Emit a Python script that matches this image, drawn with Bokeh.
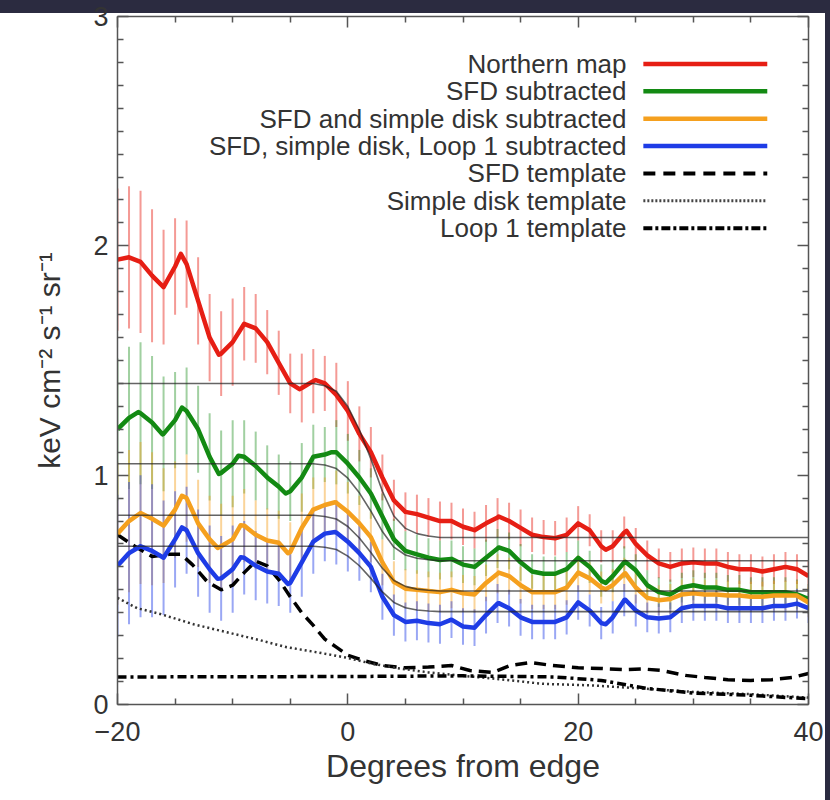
import numpy as np
from bokeh.plotting import figure
from bokeh.models import (Range1d, LinearAxis, FixedTicker, CustomJSTickFormatter,
                          ColumnDataSource)
from bokeh.core.properties import value
from bokeh.embed import file_html
from bokeh.resources import INLINE

FONT = "Liberation Sans"
TXT = "#333333"

# ---------------- data ----------------
degrees = list(range(-20, 41))

northern = [1.94, 1.95, 1.93, 1.87, 1.82, 1.91, 1.92, 1.76, 1.60, 1.53,
            1.58, 1.66, 1.64, 1.58, 1.49, 1.40, 1.38, 1.41, 1.40, 1.35,
            1.28, 1.18, 1.10, 0.99, 0.89, 0.84, 0.83, 0.815, 0.80, 0.80,
            0.775, 0.76, 0.79, 0.815, 0.80, 0.77, 0.74, 0.73, 0.725, 0.74,
            0.79, 0.76, 0.69, 0.69, 0.75, 0.70, 0.65, 0.615, 0.60, 0.615,
            0.62, 0.615, 0.615, 0.60, 0.59, 0.59, 0.58, 0.59, 0.60, 0.59, 0.56]

sfd_sub = [1.20, 1.25, 1.27, 1.23, 1.18, 1.24, 1.28, 1.20, 1.08, 1.01,
           1.05, 1.08, 1.04, 0.99, 0.95, 0.93, 0.99, 1.08, 1.09, 1.10,
           1.05, 0.99, 0.92, 0.82, 0.72, 0.67, 0.655, 0.64, 0.63, 0.635,
           0.61, 0.60, 0.64, 0.68, 0.67, 0.62, 0.58, 0.57, 0.57, 0.59,
           0.64, 0.60, 0.54, 0.56, 0.62, 0.585, 0.52, 0.49, 0.48, 0.51,
           0.52, 0.51, 0.51, 0.50, 0.50, 0.49, 0.49, 0.49, 0.49, 0.48, 0.46]

sfd_disk_sub = [0.745, 0.80, 0.835, 0.81, 0.78, 0.85, 0.90, 0.79, 0.72, 0.69,
                0.72, 0.78, 0.74, 0.715, 0.705, 0.665, 0.77, 0.85, 0.87, 0.88,
                0.84, 0.79, 0.73, 0.62, 0.535, 0.505, 0.50, 0.495, 0.49, 0.50,
                0.485, 0.48, 0.53, 0.57, 0.56, 0.52, 0.49, 0.49, 0.49, 0.51,
                0.575, 0.55, 0.51, 0.52, 0.57, 0.51, 0.465, 0.455, 0.46, 0.48,
                0.485, 0.48, 0.48, 0.475, 0.475, 0.47, 0.47, 0.475, 0.475, 0.475, 0.445]

all_sub = [0.605, 0.66, 0.69, 0.67, 0.64, 0.72, 0.76, 0.66, 0.59, 0.55,
           0.59, 0.64, 0.605, 0.58, 0.57, 0.53, 0.62, 0.71, 0.745, 0.75,
           0.71, 0.66, 0.60, 0.47, 0.39, 0.36, 0.365, 0.355, 0.35, 0.37,
           0.34, 0.335, 0.39, 0.44, 0.42, 0.38, 0.36, 0.36, 0.36, 0.38,
           0.445, 0.41, 0.355, 0.38, 0.455, 0.41, 0.38, 0.375, 0.38, 0.42,
           0.43, 0.43, 0.43, 0.42, 0.42, 0.42, 0.42, 0.43, 0.43, 0.44, 0.42]

# extra curve points read at the sub-degree peaks and dips
northern_extra = [(-14.5, 1.965), (-11.2, 1.525), (-4.2, 1.375), (-2.8, 1.415),
                  (13.1, 0.82), (22.4, 0.675), (24.2, 0.757)]
sfd_sub_extra = [(-18.2, 1.275), (-16.1, 1.178), (-14.4, 1.295), (-11.2, 1.005), (-9.5, 1.085),
                 (-5.4, 0.92), (-1.4, 1.10), (13.1, 0.685), (22.4, 0.53), (24.1, 0.622)]
sfd_disk_sub_extra = [(-14.4, 0.91), (-11.3, 0.683), (-9.3, 0.782), (-5.2, 0.66), (-1.1, 0.882),
                      (13.1, 0.575), (22.4, 0.503), (24.1, 0.572)]
all_sub_extra = [(-14.4, 0.772), (-11.3, 0.548), (-9.3, 0.642), (-5.2, 0.525), (-1.1, 0.752),
                 (13.1, 0.442), (22.4, 0.35), (24.1, 0.457)]

errors = [0.31, 0.31, 0.31, 0.29, 0.25, 0.21, 0.19, 0.19, 0.19, 0.185,
          0.19, 0.16, 0.15, 0.14, 0.14, 0.13, 0.15, 0.14, 0.12, 0.14,
          0.13, 0.12, 0.11, 0.10, 0.09, 0.085, 0.085, 0.085, 0.085, 0.08,
          0.08, 0.08, 0.08, 0.085, 0.08, 0.08, 0.075, 0.075, 0.075, 0.075,
          0.075, 0.07, 0.07, 0.07, 0.07, 0.07, 0.065, 0.065, 0.065, 0.065,
          0.065, 0.065, 0.065, 0.065, 0.065, 0.065, 0.065, 0.065, 0.065, 0.065, 0.065]

# step-like model fits (thin black lines)
model_x = [-20, -3, -2, -1, 0, 1, 2, 3, 4, 5, 6, 7, 8, 40]
model_northern = [1.40, 1.40, 1.39, 1.366, 1.299, 1.198, 1.071, 0.930, 0.822, 0.768, 0.745, 0.735, 0.728, 0.728]
model_sfd = [1.05, 1.05, 1.044, 1.029, 0.987, 0.923, 0.843, 0.754, 0.686, 0.652, 0.638, 0.631, 0.627, 0.627]
model_sfd_disk = [0.825, 0.825, 0.82, 0.809, 0.776, 0.726, 0.663, 0.594, 0.541, 0.515, 0.503, 0.498, 0.495, 0.495]
model_all = [0.69, 0.69, 0.686, 0.676, 0.647, 0.605, 0.550, 0.491, 0.445, 0.422, 0.412, 0.408, 0.405, 0.405]

# templates
sfd_tpl_x = [-20, -18.5, -17, -15.5, -14.5, -13.5, -12.2, -11, -10, -9, -8, -7, -6, -5, -4, -3, -2, -1, 0,
             1.5, 3, 5, 7, 9, 10.6, 12.6, 14.1, 15.8, 17.8, 20, 22, 24, 25.6, 27.3, 29.3, 31, 33, 35, 36.8, 38.6, 40]
sfd_tpl_y = [0.74, 0.69, 0.645, 0.655, 0.655, 0.61, 0.535, 0.50, 0.52, 0.575, 0.625, 0.605, 0.545, 0.47, 0.40,
             0.345, 0.285, 0.25, 0.215, 0.19, 0.17, 0.16, 0.163, 0.17, 0.148, 0.14, 0.17, 0.183, 0.17, 0.16,
             0.157, 0.152, 0.155, 0.148, 0.127, 0.118, 0.108, 0.105, 0.108, 0.118, 0.135]

disk_tpl_x = [-20, -18.3, -16.3, -13.4, -10.5, -7.6, -5.3, -2.6, -0.2, 2.1, 4.5, 7, 9.6, 12.6, 17, 21.3, 25.4, 30, 35, 40]
disk_tpl_y = [0.465, 0.42, 0.395, 0.35, 0.315, 0.28, 0.25, 0.227, 0.205, 0.178, 0.157, 0.14, 0.127, 0.113,
              0.09, 0.083, 0.07, 0.055, 0.045, 0.03]

loop_tpl_x = [-20, 0, 10, 18, 22, 26, 30, 35, 40]
loop_tpl_y = [0.12, 0.122, 0.125, 0.12, 0.105, 0.07, 0.05, 0.04, 0.025]

legend_labels = ["Northern map", "SFD subtracted", "SFD and simple disk subtracted",
                 "SFD, simple disk, Loop 1 subtracted", "SFD template",
                 "Simple disk template", "Loop 1 template"]

x_ticks = [-20, 0, 20, 40]
y_ticks = [0, 1, 2, 3]

# ---------------- styles ----------------
RED, GREEN, ORANGE, BLUE = "#e61e14", "#138a13", "#f5a01e", "#1e3ce6"
DARK = "#2b2b40"

p = figure(width=830, height=800, x_range=Range1d(-20, 40), y_range=Range1d(0, 3),
           output_backend="svg", toolbar_location=None,
           min_border_left=117, min_border_right=22, min_border_top=16, min_border_bottom=96,
           x_axis_label="Degrees from edge", y_axis_label="keV cm⁻² s⁻¹ sr⁻¹")
p.grid.visible = False
p.outline_line_color = None
p.background_fill_color = "white"
p.border_fill_alpha = 0
p.styles = {
    "background": (f"linear-gradient({DARK}, {DARK}) left top / 100% 13px no-repeat, "
                   f"linear-gradient({DARK}, {DARK}) right top / 5px 100% no-repeat, white")
}

xticker = FixedTicker(ticks=x_ticks, minor_ticks=[v for v in range(-20, 41, 5) if v not in x_ticks])
yticker = FixedTicker(ticks=y_ticks, minor_ticks=[i / 10 for i in range(31) if i % 10])

def style_axis(ax):
    ax.axis_line_color = "#555555"
    ax.axis_line_width = 1.5
    ax.major_tick_line_color = "#555555"
    ax.minor_tick_line_color = "#555555"
    ax.major_tick_line_width = 1.5
    ax.minor_tick_line_width = 1.5
    ax.major_tick_in = 11
    ax.major_tick_out = 0
    ax.minor_tick_in = 6
    ax.minor_tick_out = 0
    ax.major_label_text_font = FONT
    ax.major_label_text_color = TXT
    ax.major_label_text_font_size = "27px"
    ax.axis_label_text_font = FONT
    ax.axis_label_text_color = TXT
    ax.axis_label_text_font_style = "normal"

xa = p.xaxis[0]
xa.ticker = xticker
style_axis(xa)
xa.major_label_standoff = 17
xa.axis_label_standoff = 4
xa.axis_label_text_font_size = "32px"

ya = p.yaxis[0]
ya.ticker = yticker
style_axis(ya)
ya.major_label_standoff = 9
ya.axis_label_standoff = 24
ya.axis_label_text_font_size = "30px"

blank = CustomJSTickFormatter(code="return ''")
top_ax = LinearAxis(ticker=xticker, formatter=blank)
style_axis(top_ax)
p.add_layout(top_ax, "above")
right_ax = LinearAxis(ticker=yticker, formatter=blank)
style_axis(right_ax)
p.add_layout(right_ax, "right")

series = [(northern, northern_extra, RED, 0.45),
          (sfd_sub, sfd_sub_extra, GREEN, 0.4),
          (sfd_disk_sub, sfd_disk_sub_extra, ORANGE, 0.45),
          (all_sub, all_sub_extra, BLUE, 0.45)]
models = [model_northern, model_sfd, model_sfd_disk, model_all]

# error bars
for ys, _, col, alpha in series:
    y = np.array(ys)
    e = np.array(errors)
    src = ColumnDataSource(dict(x=degrees, lo=y - e, hi=y + e))
    p.segment(x0="x", y0="lo", x1="x", y1="hi", source=src, line_color=col,
              line_alpha=alpha, line_width=2)

# templates
p.line(sfd_tpl_x, sfd_tpl_y, line_color="black", line_width=3.5, line_dash="12 7")
p.line(disk_tpl_x, disk_tpl_y, line_color="#333333", line_width=2.5, line_dash="2 3")
p.line(loop_tpl_x, loop_tpl_y, line_color="black", line_width=3.5, line_dash="9 4 3 4")

# curves
for ys, extra, col, _ in series:
    pts = sorted(list(zip(degrees, ys)) + extra)
    p.line([q[0] for q in pts], [q[1] for q in pts], line_color=col, line_width=4.5,
           line_join="round")

# models
for m in models:
    p.line(model_x, m, line_color="#222222", line_alpha=0.7, line_width=1.6)

# legend (label on the left, sample on the right)
legend_top, legend_step = 2.793, 0.1193
text_right, line_x0, line_x1 = 24.2, 25.66, 36.42
rows = [legend_top - i * legend_step for i in range(len(legend_labels))]
p.text(x=[text_right] * len(rows), y=rows, text=legend_labels, text_align="right",
       text_baseline="middle", text_font=value(FONT), text_font_size="26px", text_color=TXT)
legend_styles = [
    dict(line_color=RED, line_width=4.5),
    dict(line_color=GREEN, line_width=4.5),
    dict(line_color=ORANGE, line_width=4.5),
    dict(line_color=BLUE, line_width=4.5),
    dict(line_color="black", line_width=4, line_dash="12 8"),
    dict(line_color="#444444", line_width=3, line_dash="2 2"),
    dict(line_color="black", line_width=4, line_dash="9 3 3 3"),
]
for r, st in zip(rows, legend_styles):
    p.line([line_x0, line_x1], [r, r], **st)

open("out.html", "w").write(file_html(p, INLINE))
